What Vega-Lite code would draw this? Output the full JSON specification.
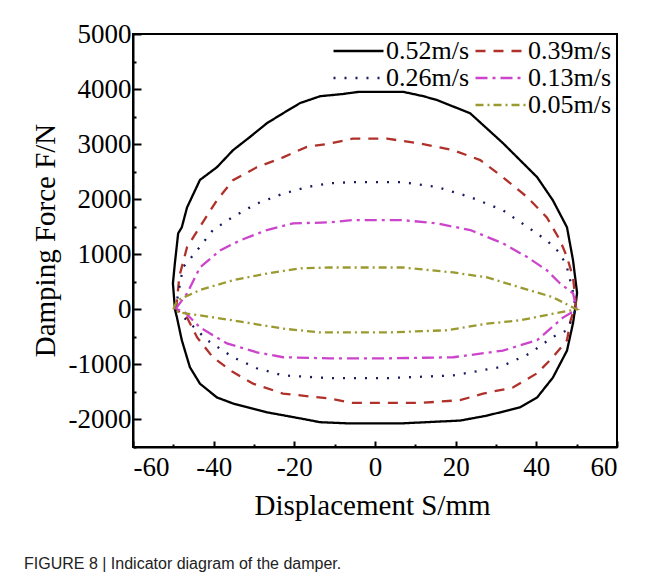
{
  "$schema": "https://vega.github.io/schema/vega-lite/v6.json",
  "width": 484,
  "height": 413,
  "autosize": {"type": "none"},
  "padding": {"left": 133, "top": 34, "right": 34, "bottom": 136},
  "background": "white",
  "config": {
    "view": {"stroke": "black", "strokeWidth": 2},
    "font": "Liberation Serif",
    "axis": {"grid": false, "domainColor": "black", "domainWidth": 2, "tickColor": "black", "tickWidth": 2, "labelColor": "black", "labelFont": "Liberation Serif", "labelFontSize": 27, "titleFont": "Liberation Serif", "titleFontSize": 29, "titleFontWeight": "normal", "titleColor": "black"}
  },
  "title": {"text": "FIGURE 8 | Indicator diagram of the damper.", "orient": "bottom", "anchor": "start", "frame": "group", "dx": -109, "offset": 36, "font": "Liberation Sans", "fontSize": 16, "fontWeight": "normal", "color": "#222222"},
  "data": {"values": [
    {"v": "0.52m/s", "i": 0, "s": -49.6, "f": 0},
    {"v": "0.52m/s", "i": 1, "s": -50.1, "f": 470},
    {"v": "0.52m/s", "i": 2, "s": -49.6, "f": 850},
    {"v": "0.52m/s", "i": 3, "s": -48.8, "f": 1380},
    {"v": "0.52m/s", "i": 4, "s": -47.9, "f": 1490},
    {"v": "0.52m/s", "i": 5, "s": -46.6, "f": 1850},
    {"v": "0.52m/s", "i": 6, "s": -43.4, "f": 2350},
    {"v": "0.52m/s", "i": 7, "s": -39.2, "f": 2580},
    {"v": "0.52m/s", "i": 8, "s": -35.2, "f": 2890},
    {"v": "0.52m/s", "i": 9, "s": -31.0, "f": 3130},
    {"v": "0.52m/s", "i": 10, "s": -26.8, "f": 3380},
    {"v": "0.52m/s", "i": 11, "s": -22.8, "f": 3560},
    {"v": "0.52m/s", "i": 12, "s": -18.6, "f": 3745},
    {"v": "0.52m/s", "i": 13, "s": -13.6, "f": 3870},
    {"v": "0.52m/s", "i": 14, "s": -8.0, "f": 3910},
    {"v": "0.52m/s", "i": 15, "s": -4.0, "f": 3950},
    {"v": "0.52m/s", "i": 16, "s": 7.0, "f": 3950},
    {"v": "0.52m/s", "i": 17, "s": 12.0, "f": 3870},
    {"v": "0.52m/s", "i": 18, "s": 15.4, "f": 3800},
    {"v": "0.52m/s", "i": 19, "s": 23.6, "f": 3560},
    {"v": "0.52m/s", "i": 20, "s": 31.7, "f": 3020},
    {"v": "0.52m/s", "i": 21, "s": 40.2, "f": 2400},
    {"v": "0.52m/s", "i": 22, "s": 44.1, "f": 1980},
    {"v": "0.52m/s", "i": 23, "s": 47.6, "f": 1490},
    {"v": "0.52m/s", "i": 24, "s": 49.1, "f": 890},
    {"v": "0.52m/s", "i": 25, "s": 50.1, "f": 300},
    {"v": "0.52m/s", "i": 26, "s": 49.6, "f": 0},
    {"v": "0.52m/s", "i": 27, "s": 49.1, "f": -250},
    {"v": "0.52m/s", "i": 28, "s": 47.6, "f": -750},
    {"v": "0.52m/s", "i": 29, "s": 44.1, "f": -1240},
    {"v": "0.52m/s", "i": 30, "s": 40.2, "f": -1600},
    {"v": "0.52m/s", "i": 31, "s": 35.9, "f": -1780},
    {"v": "0.52m/s", "i": 32, "s": 27.8, "f": -1930},
    {"v": "0.52m/s", "i": 33, "s": 21.1, "f": -2020},
    {"v": "0.52m/s", "i": 34, "s": 6.9, "f": -2070},
    {"v": "0.52m/s", "i": 35, "s": -6.9, "f": -2070},
    {"v": "0.52m/s", "i": 36, "s": -13.6, "f": -2050},
    {"v": "0.52m/s", "i": 37, "s": -18.6, "f": -1980},
    {"v": "0.52m/s", "i": 38, "s": -26.8, "f": -1870},
    {"v": "0.52m/s", "i": 39, "s": -35.2, "f": -1710},
    {"v": "0.52m/s", "i": 40, "s": -39.2, "f": -1600},
    {"v": "0.52m/s", "i": 41, "s": -43.4, "f": -1350},
    {"v": "0.52m/s", "i": 42, "s": -45.9, "f": -1050},
    {"v": "0.52m/s", "i": 43, "s": -47.9, "f": -560},
    {"v": "0.52m/s", "i": 44, "s": -49.1, "f": -150},
    {"v": "0.52m/s", "i": 45, "s": -49.6, "f": 0},

    {"v": "0.39m/s", "i": 0, "s": -49.3, "f": 0},
    {"v": "0.39m/s", "i": 1, "s": -48.5, "f": 600},
    {"v": "0.39m/s", "i": 2, "s": -46.6, "f": 1130},
    {"v": "0.39m/s", "i": 3, "s": -43.4, "f": 1500},
    {"v": "0.39m/s", "i": 4, "s": -39.2, "f": 1980},
    {"v": "0.39m/s", "i": 5, "s": -35.2, "f": 2345},
    {"v": "0.39m/s", "i": 6, "s": -29.3, "f": 2580},
    {"v": "0.39m/s", "i": 7, "s": -22.8, "f": 2760},
    {"v": "0.39m/s", "i": 8, "s": -16.9, "f": 2950},
    {"v": "0.39m/s", "i": 9, "s": -11.2, "f": 3010},
    {"v": "0.39m/s", "i": 10, "s": -5.5, "f": 3100},
    {"v": "0.39m/s", "i": 11, "s": 3.0, "f": 3100},
    {"v": "0.39m/s", "i": 12, "s": 11.2, "f": 3010},
    {"v": "0.39m/s", "i": 13, "s": 19.4, "f": 2890},
    {"v": "0.39m/s", "i": 14, "s": 26.1, "f": 2710},
    {"v": "0.39m/s", "i": 15, "s": 31.7, "f": 2400},
    {"v": "0.39m/s", "i": 16, "s": 37.7, "f": 2040},
    {"v": "0.39m/s", "i": 17, "s": 42.6, "f": 1670},
    {"v": "0.39m/s", "i": 18, "s": 45.9, "f": 1250},
    {"v": "0.39m/s", "i": 19, "s": 47.6, "f": 950},
    {"v": "0.39m/s", "i": 20, "s": 49.1, "f": 580},
    {"v": "0.39m/s", "i": 21, "s": 49.8, "f": 100},
    {"v": "0.39m/s", "i": 22, "s": 48.5, "f": -200},
    {"v": "0.39m/s", "i": 23, "s": 47.6, "f": -560},
    {"v": "0.39m/s", "i": 24, "s": 44.1, "f": -870},
    {"v": "0.39m/s", "i": 25, "s": 40.2, "f": -1160},
    {"v": "0.39m/s", "i": 26, "s": 34.2, "f": -1420},
    {"v": "0.39m/s", "i": 27, "s": 26.8, "f": -1530},
    {"v": "0.39m/s", "i": 28, "s": 21.1, "f": -1650},
    {"v": "0.39m/s", "i": 29, "s": 11.2, "f": -1700},
    {"v": "0.39m/s", "i": 30, "s": -5.5, "f": -1700},
    {"v": "0.39m/s", "i": 31, "s": -11.2, "f": -1620},
    {"v": "0.39m/s", "i": 32, "s": -22.8, "f": -1530},
    {"v": "0.39m/s", "i": 33, "s": -30.2, "f": -1350},
    {"v": "0.39m/s", "i": 34, "s": -35.2, "f": -1140},
    {"v": "0.39m/s", "i": 35, "s": -40.2, "f": -870},
    {"v": "0.39m/s", "i": 36, "s": -44.1, "f": -510},
    {"v": "0.39m/s", "i": 37, "s": -46.6, "f": -150},
    {"v": "0.39m/s", "i": 38, "s": -49.3, "f": 0},

    {"v": "0.26m/s", "i": 0, "s": -49.5, "f": 0},
    {"v": "0.26m/s", "i": 1, "s": -48.5, "f": 400},
    {"v": "0.26m/s", "i": 2, "s": -47.6, "f": 760},
    {"v": "0.26m/s", "i": 3, "s": -44.1, "f": 1070},
    {"v": "0.26m/s", "i": 4, "s": -40.2, "f": 1440},
    {"v": "0.26m/s", "i": 5, "s": -35.2, "f": 1680},
    {"v": "0.26m/s", "i": 6, "s": -29.3, "f": 1920},
    {"v": "0.26m/s", "i": 7, "s": -22.8, "f": 2100},
    {"v": "0.26m/s", "i": 8, "s": -16.9, "f": 2220},
    {"v": "0.26m/s", "i": 9, "s": -11.2, "f": 2290},
    {"v": "0.26m/s", "i": 10, "s": -5.5, "f": 2310},
    {"v": "0.26m/s", "i": 11, "s": 6.9, "f": 2310},
    {"v": "0.26m/s", "i": 12, "s": 15.4, "f": 2220},
    {"v": "0.26m/s", "i": 13, "s": 23.6, "f": 2040},
    {"v": "0.26m/s", "i": 14, "s": 31.7, "f": 1800},
    {"v": "0.26m/s", "i": 15, "s": 37.7, "f": 1500},
    {"v": "0.26m/s", "i": 16, "s": 42.6, "f": 1250},
    {"v": "0.26m/s", "i": 17, "s": 45.9, "f": 1020},
    {"v": "0.26m/s", "i": 18, "s": 47.6, "f": 760},
    {"v": "0.26m/s", "i": 19, "s": 49.0, "f": 350},
    {"v": "0.26m/s", "i": 20, "s": 49.8, "f": 0},
    {"v": "0.26m/s", "i": 21, "s": 47.6, "f": -380},
    {"v": "0.26m/s", "i": 22, "s": 44.1, "f": -500},
    {"v": "0.26m/s", "i": 23, "s": 38.4, "f": -800},
    {"v": "0.26m/s", "i": 24, "s": 31.0, "f": -1050},
    {"v": "0.26m/s", "i": 25, "s": 19.4, "f": -1200},
    {"v": "0.26m/s", "i": 26, "s": 3.0, "f": -1250},
    {"v": "0.26m/s", "i": 27, "s": -11.2, "f": -1250},
    {"v": "0.26m/s", "i": 28, "s": -22.8, "f": -1200},
    {"v": "0.26m/s", "i": 29, "s": -29.3, "f": -1070},
    {"v": "0.26m/s", "i": 30, "s": -35.2, "f": -870},
    {"v": "0.26m/s", "i": 31, "s": -41.6, "f": -560},
    {"v": "0.26m/s", "i": 32, "s": -45.9, "f": -250},
    {"v": "0.26m/s", "i": 33, "s": -49.5, "f": 0},

    {"v": "0.13m/s", "i": 0, "s": -49.5, "f": 0},
    {"v": "0.13m/s", "i": 1, "s": -46.6, "f": 290},
    {"v": "0.13m/s", "i": 2, "s": -43.4, "f": 760},
    {"v": "0.13m/s", "i": 3, "s": -38.4, "f": 1070},
    {"v": "0.13m/s", "i": 4, "s": -33.5, "f": 1250},
    {"v": "0.13m/s", "i": 5, "s": -26.8, "f": 1440},
    {"v": "0.13m/s", "i": 6, "s": -20.3, "f": 1560},
    {"v": "0.13m/s", "i": 7, "s": -11.2, "f": 1580},
    {"v": "0.13m/s", "i": 8, "s": -5.5, "f": 1620},
    {"v": "0.13m/s", "i": 9, "s": 6.9, "f": 1620},
    {"v": "0.13m/s", "i": 10, "s": 15.4, "f": 1560},
    {"v": "0.13m/s", "i": 11, "s": 23.6, "f": 1440},
    {"v": "0.13m/s", "i": 12, "s": 31.7, "f": 1200},
    {"v": "0.13m/s", "i": 13, "s": 37.7, "f": 950},
    {"v": "0.13m/s", "i": 14, "s": 42.6, "f": 710},
    {"v": "0.13m/s", "i": 15, "s": 45.9, "f": 470},
    {"v": "0.13m/s", "i": 16, "s": 49.1, "f": 290},
    {"v": "0.13m/s", "i": 17, "s": 50.0, "f": 0},
    {"v": "0.13m/s", "i": 18, "s": 46.6, "f": -150},
    {"v": "0.13m/s", "i": 19, "s": 40.2, "f": -560},
    {"v": "0.13m/s", "i": 20, "s": 31.7, "f": -750},
    {"v": "0.13m/s", "i": 21, "s": 19.4, "f": -870},
    {"v": "0.13m/s", "i": 22, "s": 3.0, "f": -890},
    {"v": "0.13m/s", "i": 23, "s": -11.2, "f": -890},
    {"v": "0.13m/s", "i": 24, "s": -22.8, "f": -870},
    {"v": "0.13m/s", "i": 25, "s": -29.3, "f": -780},
    {"v": "0.13m/s", "i": 26, "s": -36.7, "f": -620},
    {"v": "0.13m/s", "i": 27, "s": -43.4, "f": -330},
    {"v": "0.13m/s", "i": 28, "s": -47.6, "f": -20},
    {"v": "0.13m/s", "i": 29, "s": -49.5, "f": 0},

    {"v": "0.05m/s", "i": 0, "s": -50.0, "f": 0},
    {"v": "0.05m/s", "i": 1, "s": -49.1, "f": 160},
    {"v": "0.05m/s", "i": 2, "s": -43.4, "f": 350},
    {"v": "0.05m/s", "i": 3, "s": -35.2, "f": 530},
    {"v": "0.05m/s", "i": 4, "s": -26.8, "f": 650},
    {"v": "0.05m/s", "i": 5, "s": -18.6, "f": 745},
    {"v": "0.05m/s", "i": 6, "s": -11.2, "f": 760},
    {"v": "0.05m/s", "i": 7, "s": 6.9, "f": 760},
    {"v": "0.05m/s", "i": 8, "s": 19.4, "f": 670},
    {"v": "0.05m/s", "i": 9, "s": 27.8, "f": 580},
    {"v": "0.05m/s", "i": 10, "s": 35.9, "f": 400},
    {"v": "0.05m/s", "i": 11, "s": 44.1, "f": 220},
    {"v": "0.05m/s", "i": 12, "s": 50.0, "f": 0},
    {"v": "0.05m/s", "i": 13, "s": 44.1, "f": -80},
    {"v": "0.05m/s", "i": 14, "s": 35.9, "f": -200},
    {"v": "0.05m/s", "i": 15, "s": 27.8, "f": -260},
    {"v": "0.05m/s", "i": 16, "s": 17.8, "f": -380},
    {"v": "0.05m/s", "i": 17, "s": 3.0, "f": -420},
    {"v": "0.05m/s", "i": 18, "s": -13.6, "f": -420},
    {"v": "0.05m/s", "i": 19, "s": -22.8, "f": -350},
    {"v": "0.05m/s", "i": 20, "s": -35.2, "f": -200},
    {"v": "0.05m/s", "i": 21, "s": -43.4, "f": -110},
    {"v": "0.05m/s", "i": 22, "s": -48.3, "f": -60},
    {"v": "0.05m/s", "i": 23, "s": -50.0, "f": 0}
  ]},
  "mark": {"type": "line", "strokeWidth": 2.3},
  "encoding": {
    "x": {"field": "s", "type": "quantitative", "scale": {"domain": [-60, 60], "nice": false, "zero": false},
      "axis": {"title": "Displacement S/mm", "values": [-60, -50, -40, -30, -20, -10, 0, 10, 20, 30, 40, 50, 60], "labelExpr": "datum.value % 20 === 0 ? '' + datum.value : ''", "tickSize": {"condition": {"test": "datum.value % 20 === 0", "value": -6}, "value": -3}, "labelPadding": 13, "titleX": 239, "titleY": 67, "titleBaseline": "alphabetic", "titleAnchor": "middle"}},
    "y": {"field": "f", "type": "quantitative", "scale": {"domain": [-2500, 5000], "nice": false, "zero": false},
      "axis": {"title": "Damping Force F/N", "values": [-2500, -2000, -1500, -1000, -500, 0, 500, 1000, 1500, 2000, 2500, 3000, 3500, 4000, 4500, 5000], "labelExpr": "datum.value % 1000 === 0 ? '' + datum.value : ''", "tickSize": {"condition": {"test": "datum.value % 1000 === 0", "value": -8}, "value": -3}, "labelPadding": 10, "titleAngle": 270, "titleX": -88, "titleY": 206, "titleBaseline": "middle", "titleAlign": "center"}},
    "color": {"field": "v", "type": "nominal",
      "scale": {"domain": ["0.52m/s", "0.39m/s", "0.26m/s", "0.13m/s", " ", "0.05m/s"], "range": ["#000000", "#b0302a", "#1a1a5e", "#cc44cc", "rgba(0,0,0,0)", "#9a9a30"]},
      "legend": {"title": null, "orient": "none", "legendX": 199, "legendY": 3, "columns": 2, "direction": "horizontal", "symbolType": "M-1,0H3", "symbolSize": 625, "symbolStrokeWidth": 2.5, "labelFont": "Liberation Serif", "labelFontSize": 26, "labelColor": "black", "labelOffset": 26, "rowPadding": 0, "columnPadding": 0, "padding": 0, "labelLimit": 200}},
    "strokeDash": {"field": "v", "type": "nominal",
      "scale": {"domain": ["0.52m/s", "0.39m/s", "0.26m/s", "0.13m/s", " ", "0.05m/s"], "range": [[1, 0], [10, 8], [2, 9], [12, 5, 3, 5], [1, 0], [8, 4, 2, 4]]},
      "legend": {"title": null, "orient": "none", "legendX": 199, "legendY": 3, "columns": 2, "direction": "horizontal", "symbolType": "M-1,0H3", "symbolSize": 625, "symbolStrokeWidth": 2.5, "labelFont": "Liberation Serif", "labelFontSize": 26, "labelColor": "black", "labelOffset": 26, "rowPadding": 0, "columnPadding": 0, "padding": 0, "labelLimit": 200}},
    "order": {"field": "i", "type": "quantitative"}
  }
}
